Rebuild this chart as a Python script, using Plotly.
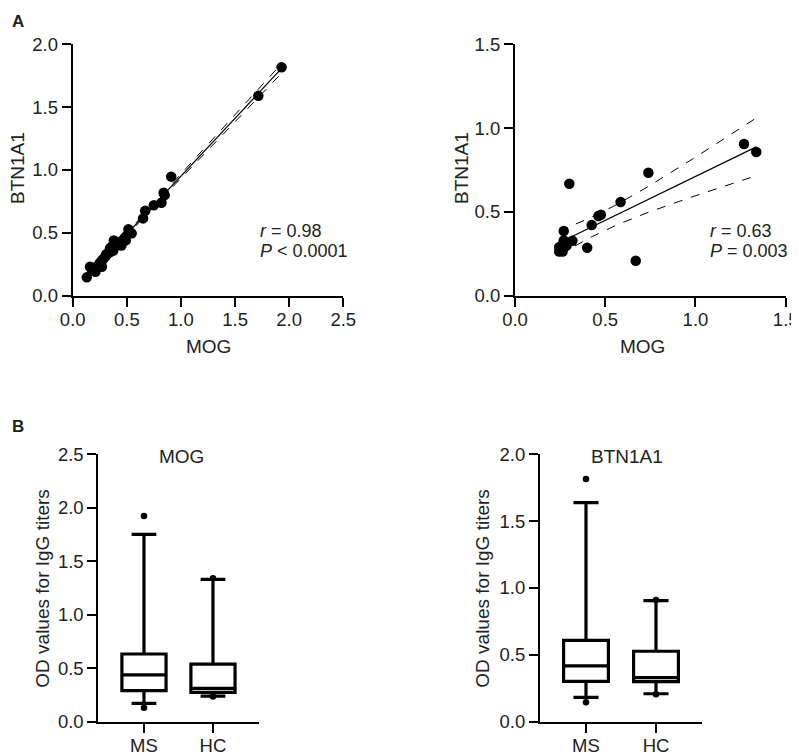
import numpy as np
import plotly.graph_objects as go

W, H = 799, 755
OFF = 8  # default page body margin
FW, FH = W, H
FONT = "Arial, Liberation Sans, sans-serif"

# ---- Panel A (left): MS patients, MOG vs BTN1A1 ----
mog_ms = [0.13, 0.16, 0.18, 0.21, 0.22, 0.24, 0.25, 0.27, 0.27, 0.28, 0.30, 0.31,
          0.33, 0.345, 0.35, 0.36, 0.375, 0.38, 0.39, 0.41, 0.43, 0.45, 0.46, 0.48,
          0.49, 0.50, 0.515, 0.545, 0.65, 0.67, 0.75, 0.82, 0.84, 0.85, 0.91, 1.715, 1.93]
btn_ms = [0.146, 0.23, 0.20, 0.19, 0.23, 0.23, 0.26, 0.28, 0.23, 0.29, 0.31, 0.33,
          0.34, 0.377, 0.35, 0.39, 0.36, 0.44, 0.417, 0.41, 0.42, 0.40, 0.44, 0.46,
          0.44, 0.48, 0.528, 0.496, 0.615, 0.676, 0.72, 0.74, 0.82, 0.80, 0.947, 1.59, 1.817]
stat_ms = ["<i>r</i> = 0.98", "<i>P</i> < 0.0001"]

# ---- Panel A (right): HC, MOG vs BTN1A1 ----
mog_hc = [0.245, 0.245, 0.25, 0.26, 0.264, 0.27, 0.27, 0.28, 0.286, 0.301, 0.318,
          0.40, 0.425, 0.462, 0.476, 0.585, 0.669, 0.739, 1.269, 1.337]
btn_hc = [0.289, 0.264, 0.28, 0.30, 0.264, 0.33, 0.386, 0.31, 0.30, 0.668, 0.328,
          0.286, 0.422, 0.476, 0.483, 0.559, 0.209, 0.734, 0.905, 0.857]
stat_hc = ["<i>r</i> = 0.63", "<i>P</i> = 0.003"]

# ---- Panel B: box summaries ----
groups = ["MS", "HC"]
mog_q1 = [0.29, 0.275]
mog_med = [0.437, 0.312]
mog_q3 = [0.633, 0.539]
mog_lo = [0.172, 0.24]
mog_hi = [1.752, 1.331]
mog_out_x = ["MS", "MS", "HC", "HC"]
mog_out_y = [1.923, 0.131, 1.34, 0.235]

btn_q1 = [0.302, 0.30]
btn_med = [0.417, 0.329]
btn_q3 = [0.609, 0.527]
btn_lo = [0.182, 0.209]
btn_hi = [1.638, 0.905]
btn_out_x = ["MS", "MS", "HC", "HC"]
btn_out_y = [1.815, 0.145, 0.91, 0.205]

T95 = {37: 2.030, 20: 2.101}


def px_x(p):
    return (p - OFF) / FW


def px_y(p):
    return 1 - (p - OFF) / FH


def reg_band(x, y):
    x = np.asarray(x, float)
    y = np.asarray(y, float)
    n = len(x)
    xm, ym = x.mean(), y.mean()
    sxx = ((x - xm) ** 2).sum()
    b = ((x - xm) * (y - ym)).sum() / sxx
    a = ym - b * xm
    s = np.sqrt(((y - (a + b * x)) ** 2).sum() / (n - 2))
    xs = np.linspace(x.min(), x.max(), 60)
    yh = a + b * xs
    se = s * np.sqrt(1 / n + (xs - xm) ** 2 / sxx)
    t = T95.get(n, 2.05)
    return xs, yh, yh - t * se, yh + t * se


fig = go.Figure()

# domains (pixels of the target picture)
dom = {
    "1": dict(x=(72.7, 343.3), y=(44.3, 295.7)),
    "2": dict(x=(515, 785.7), y=(44.3, 295.7)),
    "3": dict(x=(98.3, 259), y=(454.3, 721.7)),
    "4": dict(x=(540, 701.7), y=(454.3, 721.7)),
}

for k, (xv, yv) in {"1": (mog_ms, btn_ms), "2": (mog_hc, btn_hc)}.items():
    xa = "x" if k == "1" else "x2"
    ya = "y" if k == "1" else "y2"
    xs, yh, lo, hi = reg_band(xv, yv)
    for band in (lo, hi):
        fig.add_trace(go.Scatter(x=xs, y=band, mode="lines", xaxis=xa, yaxis=ya,
                                 line=dict(color="black", width=1, dash="dash"), hoverinfo="skip"))
    fig.add_trace(go.Scatter(x=xs, y=yh, mode="lines", xaxis=xa, yaxis=ya,
                             line=dict(color="black", width=1.2), hoverinfo="skip"))
    fig.add_trace(go.Scatter(x=xv, y=yv, mode="markers", xaxis=xa, yaxis=ya,
                             marker=dict(color="black", size=10.5), cliponaxis=False))

for k, (q1, med, q3, lo, hi, ox, oy) in {
    "3": (mog_q1, mog_med, mog_q3, mog_lo, mog_hi, mog_out_x, mog_out_y),
    "4": (btn_q1, btn_med, btn_q3, btn_lo, btn_hi, btn_out_x, btn_out_y),
}.items():
    xa, ya = "x" + k, "y" + k
    fig.add_trace(go.Box(x=groups, q1=q1, median=med, q3=q3, lowerfence=lo, upperfence=hi,
                         xaxis=xa, yaxis=ya, boxpoints=False, fillcolor="white",
                         line=dict(color="black", width=3.2), width=0.64, whiskerwidth=0.56))
    fig.add_trace(go.Scatter(x=ox, y=oy, mode="markers", xaxis=xa, yaxis=ya,
                             marker=dict(color="black", size=6.5), cliponaxis=False))

axis_common = dict(showline=True, linecolor="black", linewidth=2, ticks="outside",
                   ticklen=9, tickwidth=2, tickcolor="black", showgrid=False, zeroline=False,
                   automargin=False,
                   tickfont=dict(family=FONT, size=18.5, color="#222"), mirror=False)

ranges = {
    "1": dict(x=[0, 2.5], xd=0.5, y=[0, 2.0], yd=0.5),
    "2": dict(x=[0, 1.5], xd=0.5, y=[0, 1.5], yd=0.5),
    "3": dict(x=[-0.662, 1.667], y=[0, 2.5], yd=0.5),
    "4": dict(x=[-0.657, 1.653], y=[0, 2.0], yd=0.5),
}

layout_axes = {}
for k, d in dom.items():
    xkey = "xaxis" if k == "1" else "xaxis" + k
    ykey = "yaxis" if k == "1" else "yaxis" + k
    yanchor = "y" if k == "1" else "y" + k
    xanchor = "x" if k == "1" else "x" + k
    r = ranges[k]
    xa = dict(axis_common, domain=[px_x(d["x"][0]), px_x(d["x"][1])], anchor=yanchor,
              range=r["x"], ticklabelstandoff=-3)
    if "xd" in r:
        xa.update(dtick=r["xd"], tick0=0, tickformat=".1f")
    else:
        xa.update(type="category")
    ya = dict(axis_common, domain=[px_y(d["y"][1]), px_y(d["y"][0])], anchor=xanchor,
              range=r["y"], dtick=r["yd"], tick0=0, tickformat=".1f")
    layout_axes[xkey] = xa
    layout_axes[ykey] = ya

ann = []


def text(x, y, s, size=19, bold=False, xanchor="center", angle=0):
    ann.append(dict(x=px_x(x), y=px_y(y), xref="paper", yref="paper", text=("<b>%s</b>" % s) if bold else s,
                    showarrow=False, xanchor=xanchor, yanchor="middle", textangle=angle,
                    font=dict(family=FONT, size=size, color="#222")))


text(18, 21, "A", size=17, bold=True)
text(18, 426, "B", size=17, bold=True)
text(208, 346, "MOG")
text(642, 346, "MOG")
text(18, 168, "BTN1A1", angle=-90)
text(462, 168, "BTN1A1", angle=-90)
text(41.7, 588, "OD values for IgG titers", angle=-90)
text(481.7, 588, "OD values for IgG titers", angle=-90)
text(181, 456.7, "MOG")
text(626.7, 456.7, "BTN1A1")
text(258, 230.7, stat_ms[0], size=18, xanchor="left")
text(258, 250.7, stat_ms[1], size=18, xanchor="left")
text(708.3, 230.7, stat_hc[0], size=18, xanchor="left")
text(708.3, 250.7, stat_hc[1], size=18, xanchor="left")

fig.update_layout(width=FW, height=FH, margin=dict(l=0, r=0, t=0, b=0, autoexpand=False),
                  showlegend=False,
                  paper_bgcolor="white", plot_bgcolor="white", annotations=ann, **layout_axes)

fig.write_html("out.html")
